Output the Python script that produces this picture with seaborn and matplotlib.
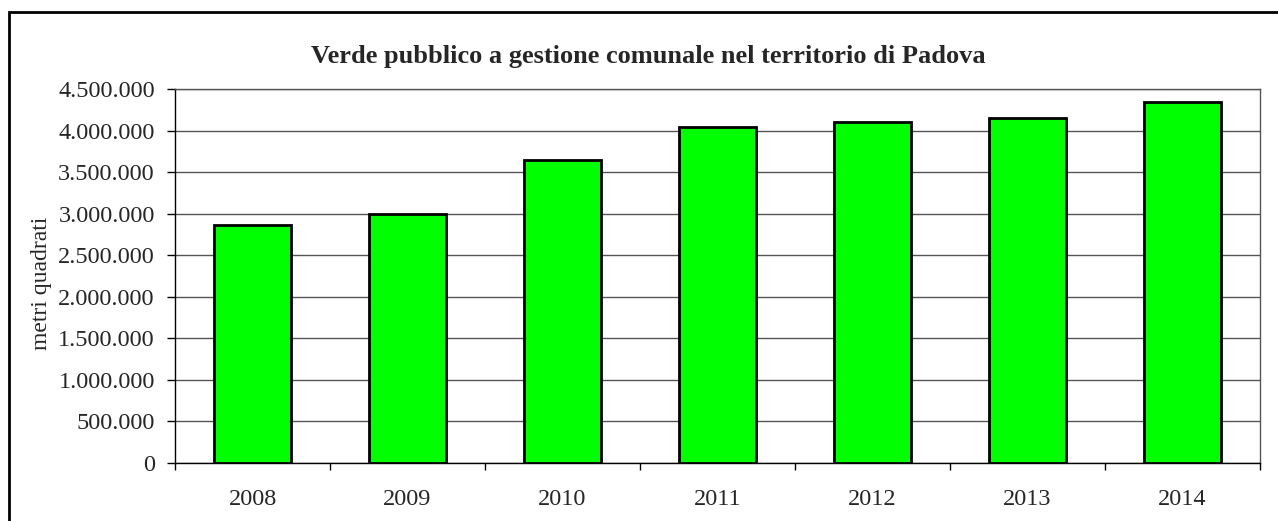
import matplotlib
matplotlib.use('Agg')
import matplotlib.pyplot as plt
import matplotlib.ticker as mticker
import seaborn as sns
import pandas as pd

# Data
years = ['2008', '2009', '2010', '2011', '2012', '2013', '2014']
mq = [2860000, 2993000, 3640000, 4040000, 4100000, 4155000, 4340000]

sns.set_style('white')
plt.rcParams['font.family'] = ['Liberation Serif', 'DejaVu Serif']

df = pd.DataFrame({'anno': years, 'mq': mq})

fig = plt.figure(figsize=(12.78, 5.21), dpi=100)
ax = fig.add_axes([175 / 1278, 1 - 463 / 521, (1260 - 175) / 1278, (463 - 89) / 521])

sns.barplot(df, x='anno', y='mq', color='#00FF00', edgecolor='black',
            linewidth=2, width=0.5, saturation=1, ax=ax, zorder=3)

ax.set_ylim(0, 4500000)
ax.set_xlim(-0.5, len(years) - 0.5)
ax.yaxis.set_major_locator(mticker.MultipleLocator(500000))
ax.yaxis.set_major_formatter(
    mticker.FuncFormatter(lambda v, p: f'{int(v):,}'.replace(',', '.')))
ax.grid(axis='y', color='#555555', linewidth=1, zorder=0)
ax.set_axisbelow(True)

# tick marks between categories, labels centred under bars
ax.set_xticks([i + 0.5 for i in range(-1, len(years))], minor=True)
ax.tick_params(axis='x', which='major', length=0, pad=19, labelsize=17.5)
ax.tick_params(axis='x', which='minor', length=5, width=1, direction='out', color='black')
ax.tick_params(axis='y', length=5.5, width=1, direction='out', color='black', labelsize=17.5, pad=9)
ax.xaxis.set_ticks_position('bottom')
ax.yaxis.set_ticks_position('left')

for s in ['left', 'bottom']:
    ax.spines[s].set_color('black')
    ax.spines[s].set_linewidth(1)
for s in ['top', 'right']:
    ax.spines[s].set_color('#555555')
    ax.spines[s].set_linewidth(1)

ax.set_xlabel('')
ax.set_ylabel('')
fig.text(41 / 1278, 1 - 283 / 521, 'metri quadrati', fontsize=17,
         rotation=90, ha='center', va='center')

fig.text(648 / 1278, 1 - 57 / 521,
         'Verde pubblico a gestione comunale nel territorio di Padova',
         fontsize=19, fontweight='bold', ha='center', va='center')

# outer border of the chart area
fig.patches.append(plt.Rectangle((9 / 1278, -0.05), 1.2, 1 - 12 / 521 + 0.05,
                                 transform=fig.transFigure, fill=False,
                                 edgecolor='black', linewidth=2))

fig.savefig('out.png', dpi=100)
